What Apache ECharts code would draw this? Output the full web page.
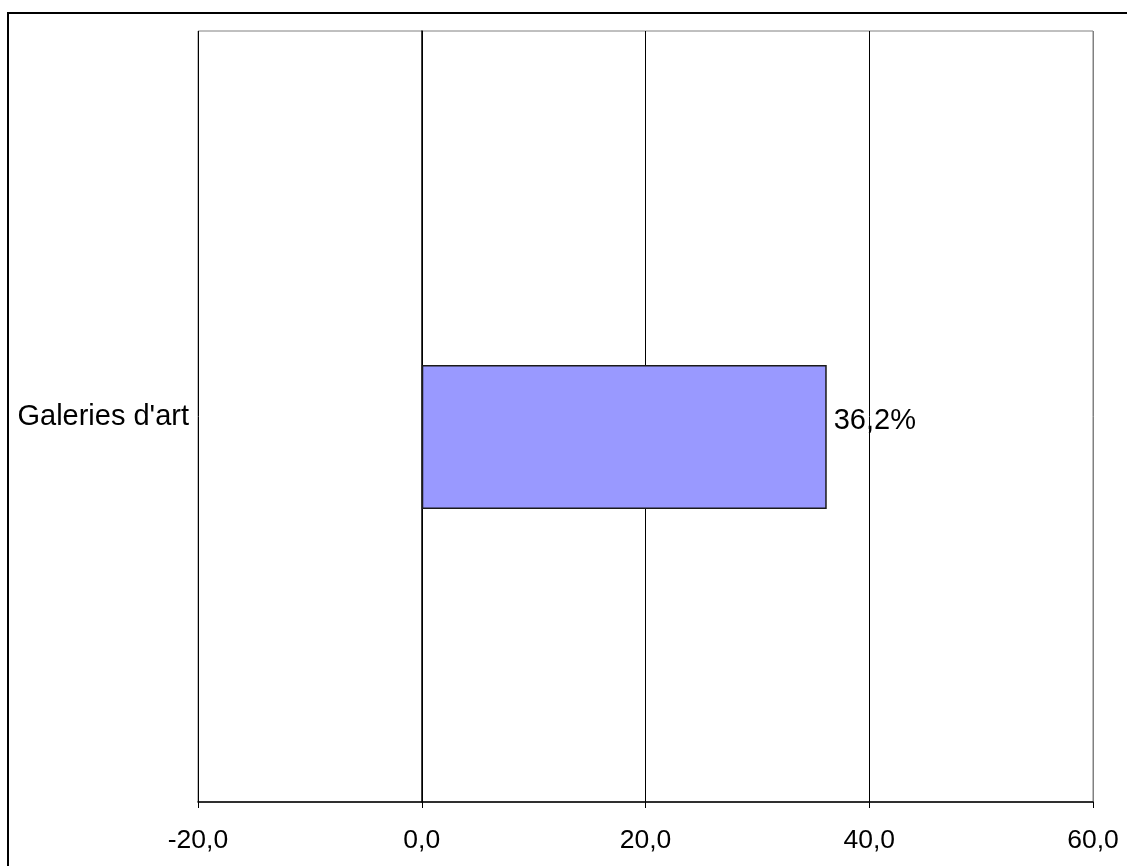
<!DOCTYPE html>
<html>
<head>
<meta charset="utf-8">
<script src="https://cdn.jsdelivr.net/npm/echarts@6/dist/echarts.min.js"></script>
<style>html,body{margin:0;padding:0;background:#fff}#c{width:1127px;height:866px}</style>
</head>
<body>
<div id="c"></div>
<script>
const categories = ["Galeries d'art"];
const values = [36.2];
const emptyValues = ['-'];
const xTicks = { min: -20, max: 60, interval: 20 };

const chart = echarts.init(document.getElementById('c'), null, { renderer: 'canvas' });
const fmt = v => v.toFixed(1).replace('.', ',');
const FF = 'Liberation Sans, Arial, sans-serif';
chart.setOption({
  animation: false,
  backgroundColor: '#fff',
  textStyle: { fontFamily: FF },
  graphic: [{
    type: 'rect', shape: { x: 8, y: 13, width: 1200, height: 1000 },
    style: { fill: 'none', stroke: '#000', lineWidth: 2 }, silent: true, z: 100
  }],
  grid: { left: 198, right: 34, top: 31, bottom: 64, show: true, borderColor: '#808080', borderWidth: 1 },
  xAxis: {
    type: 'value', min: xTicks.min, max: xTicks.max, interval: xTicks.interval,
    axisLine: { show: true, onZero: false, lineStyle: { color: '#000', width: 1.5 } },
    axisTick: { show: true, length: 6, lineStyle: { color: '#000' } },
    axisLabel: { color: '#000', fontSize: 26.5, margin: 25, formatter: fmt, fontFamily: FF },
    splitLine: { show: true, lineStyle: { color: ['#000', '#000', '#000', '#000', '#808080'], width: 1 } }
  },
  yAxis: {
    type: 'category', data: categories,
    axisLine: { show: true, lineStyle: { color: '#000', width: 1.5 } },
    axisTick: { show: false },
    axisLabel: { color: '#000', fontSize: 29, margin: 9, fontFamily: FF, padding: [6, 0, 0, 0] }
  },
  series: [
    { type: 'bar', data: emptyValues, barWidth: 144, barGap: '-71.5%', silent: true },
    {
      type: 'bar', data: values, barWidth: 144, barGap: '-71.5%',
      itemStyle: { color: '#9999FF', borderColor: '#1a1a1a', borderWidth: 1.5 },
      label: { show: true, position: 'right', distance: 7, offset: [0, -16], color: '#000', fontSize: 29,
        fontFamily: FF,
        formatter: p => p.value.toFixed(1).replace('.', ',') + '%' }
    }
  ]
});
</script>
</body>
</html>
